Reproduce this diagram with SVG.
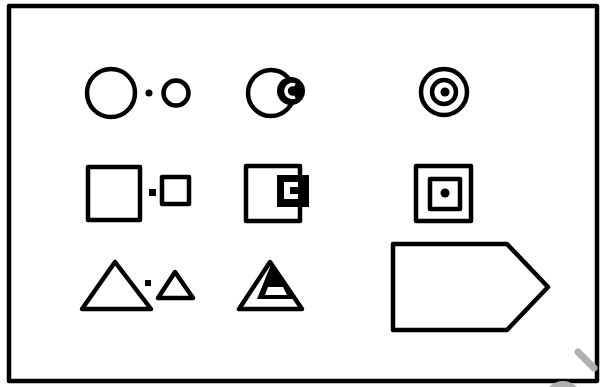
<svg xmlns="http://www.w3.org/2000/svg" width="605" height="387" viewBox="0 0 605 387">
<style>
.o{fill:none;stroke:#000;stroke-width:4.5;stroke-linejoin:round}
.k{fill:#000}
.w{fill:#fff}
.wm{fill:none;stroke:#b0b0b0;stroke-width:7;stroke-linecap:round}
</style>
<rect width="605" height="387" fill="#fff"/>
<rect id="frame" class="o" x="9" y="6" width="588" height="375" stroke-width="5"/>
<g id="circles-apart">
<circle class="o" cx="111" cy="93" r="24"/>
<circle class="k" cx="149" cy="93" r="3.5"/>
<circle class="o" cx="176" cy="93" r="12.5"/>
</g>
<g id="circles-overlap">
<circle class="o" cx="271" cy="93" r="23"/>
<circle class="k" cx="291" cy="91" r="14"/>
<path d="M295 85 A6.5 6.5 0 1 0 295 97" fill="none" stroke="#fff" stroke-width="3.5"/>
</g>
<g id="circles-concentric">
<circle class="o" cx="444" cy="92" r="23" stroke-width="6"/>
<circle class="o" cx="444" cy="92" r="12" stroke-width="5.5"/>
<circle class="k" cx="445" cy="92" r="4.5"/>
</g>
<g id="squares-apart">
<rect class="o" x="88" y="167" width="52" height="53"/>
<rect class="k" x="149" y="189" width="7" height="7"/>
<rect class="o" x="162" y="177" width="27" height="27"/>
</g>
<g id="squares-overlap">
<rect class="o" x="246" y="166" width="54" height="55"/>
<rect class="k" x="277" y="175" width="32" height="32"/>
<rect class="w" x="284" y="182" width="14" height="17"/>
<rect class="k" x="290" y="187" width="9" height="7"/>
</g>
<g id="squares-concentric">
<rect class="o" x="416" y="166" width="55" height="55" stroke-width="5.5"/>
<rect class="o" x="430" y="179" width="30" height="30" stroke-width="5.5"/>
<circle class="k" cx="445" cy="193" r="4.5"/>
</g>
<g id="triangles-apart">
<polygon class="o" points="115,262 82,309 151,309"/>
<rect class="k" x="145" y="280" width="6" height="6"/>
<polygon class="o" points="175,272 158,298 193,298"/>
</g>
<g id="triangles-overlap">
<polygon class="o" points="270,262 239,309 302,309"/>
<polygon class="k" points="272,262 257,299 296,299"/>
<polygon class="w" points="268,287 283,287 287,295 265,295"/>
</g>
<g id="pentagon">
<polygon class="o" points="393,244 507,244 548,287 507,330 393,330" stroke-width="5"/>
</g>
<g id="watermark">
<line class="wm" x1="578" y1="352" x2="594" y2="368"/>
<circle cx="563" cy="400" r="19" fill="#b0b0b0"/>
</g>
</svg>
